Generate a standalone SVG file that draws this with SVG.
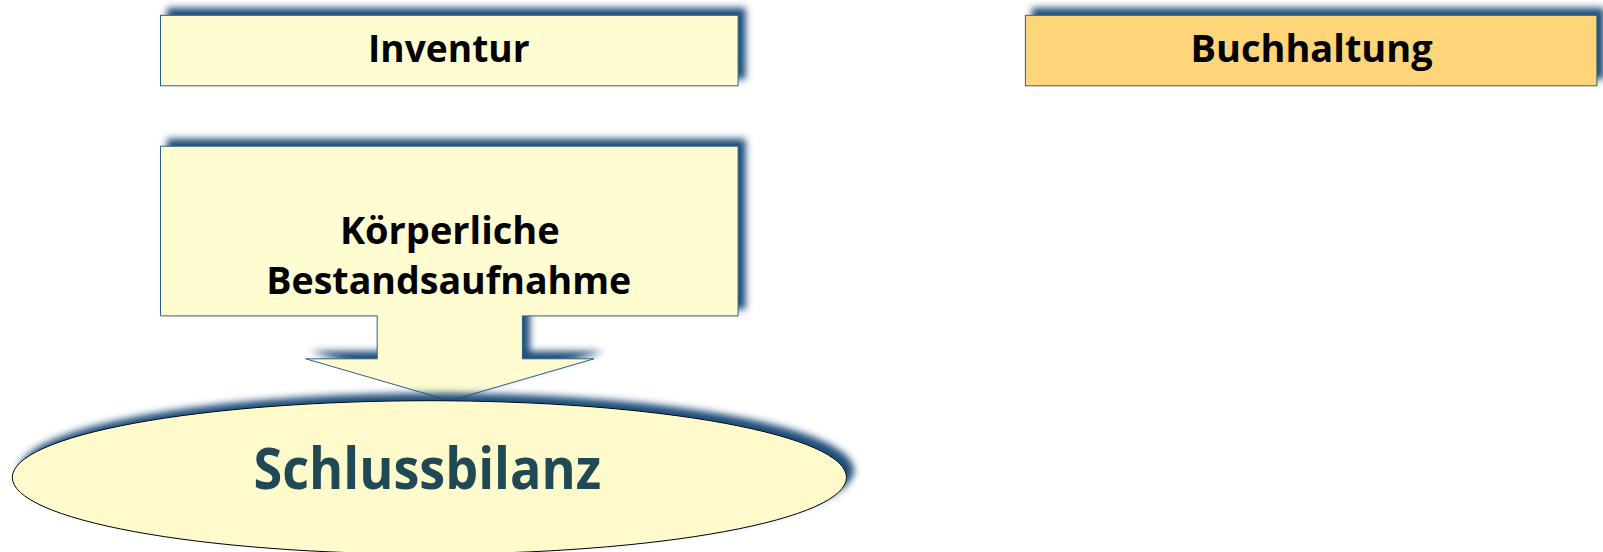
<svg xmlns="http://www.w3.org/2000/svg" width="1603" height="552" viewBox="0 0 1603 552">
<style>
.box{stroke:#2F5F8A;stroke-width:1;filter:url(#sh)}
.t{font-family:"Open Sans","Liberation Sans",sans-serif;font-weight:bold;text-anchor:middle;fill:#000}
</style>
<defs>
<filter id="sh" x="-10%" y="-30%" width="120%" height="160%">
<feGaussianBlur in="SourceAlpha" stdDeviation="3.5"/>
<feOffset dx="7" dy="-7" result="b"/>
<feFlood flood-color="#1F4E79"/>
<feComposite in2="b" operator="in"/>
<feMerge><feMergeNode/><feMergeNode in="SourceGraphic"/></feMerge>
</filter>
</defs>
<rect width="1603" height="552" fill="#fff"/>
<g id="inventur">
<rect class="box" x="160.5" y="15.3" width="577.6" height="70.5" fill="#FFFCD2"/>
<text class="t" x="448.8" y="62.4" font-size="37" textLength="161.5" lengthAdjust="spacingAndGlyphs">Inventur</text>
</g>
<g id="buchhaltung">
<rect class="box" x="1025.4" y="15.3" width="571.5" height="70.5" fill="#FFD57A"/>
<text class="t" x="1311.6" y="62.4" font-size="37" textLength="242.3" lengthAdjust="spacingAndGlyphs">Buchhaltung</text>
</g>
<g id="bestandsaufnahme">
<path class="box" d="M160.5 146.2 H738.1 V315.9 H522.4 V358.8 H594 L449.8 400.7 L305.7 358.8 H377.2 V315.9 H160.5 Z" fill="#FFFCD2"/>
<text class="t" x="449.8" y="244.3" font-size="37" textLength="219.8" lengthAdjust="spacingAndGlyphs">Körperliche</text>
<text class="t" x="448.8" y="294.4" font-size="37" textLength="365" lengthAdjust="spacingAndGlyphs">Bestandsaufnahme</text>
</g>
<g id="schlussbilanz">
<ellipse class="box" cx="429.4" cy="477.4" rx="417.1" ry="76.7" fill="#FFFACC" style="stroke:#000"/>
<text class="t" x="427.3" y="488.7" font-size="58" style="fill:#1F4A55" textLength="347.6" lengthAdjust="spacingAndGlyphs">Schlussbilanz</text>
</g>
<g id="connectors"/>
</svg>
